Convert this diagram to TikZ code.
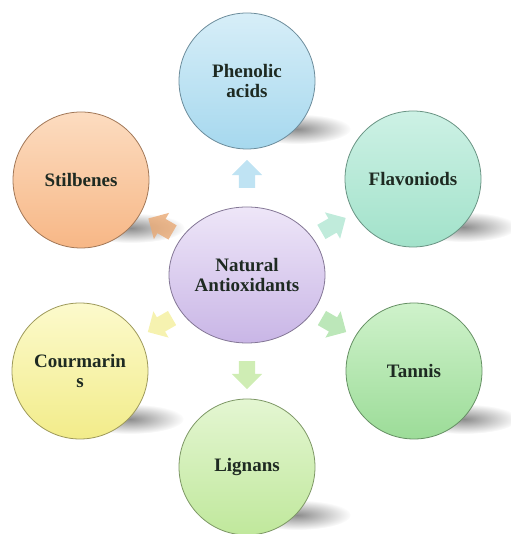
\documentclass[tikz,border=0pt]{standalone}
\usepackage{fontspec}
\setmainfont{Liberation Serif}
\usepackage{tikz}
\usetikzlibrary{shapes.geometric,shapes.arrows,fadings,calc,backgrounds}
\usepackage{xcolor}

\definecolor{phenTop}{HTML}{D7EEF8}
\definecolor{phenBot}{HTML}{A6D8EE}
\definecolor{stilTop}{HTML}{FCDCC0}
\definecolor{stilBot}{HTML}{F7B786}
\definecolor{flavTop}{HTML}{CDF1E5}
\definecolor{flavBot}{HTML}{A2E2CA}
\definecolor{tannTop}{HTML}{CFF2CB}
\definecolor{tannBot}{HTML}{9CDC98}
\definecolor{lignTop}{HTML}{E4F6D2}
\definecolor{lignBot}{HTML}{C0E89C}
\definecolor{courTop}{HTML}{FCFACC}
\definecolor{courBot}{HTML}{F2EC8A}
\definecolor{natTop}{HTML}{EEE6F8}
\definecolor{natBot}{HTML}{C9B6E6}
\definecolor{labelInk}{HTML}{1E2A22}

\tikzfading[name=softblob,inner color=transparent!0,outer color=transparent!100]

\begin{document}
\begin{tikzpicture}[x=1pt,y=1pt,
  bubble/.style={circle,minimum size=136pt,inner sep=0pt,align=center,line width=0.8pt,
    font=\bfseries\fontsize{19}{20}\selectfont,text=labelInk},
  blob/.style={fill=black!45,path fading=softblob},
  pointer/.style={single arrow,minimum height=28pt,minimum width=30pt,text width=0pt,
    text height=8pt,text depth=8pt,inner sep=0pt,single arrow head extend=7pt,opacity=0.8}]
\useasboundingbox (0,0) rectangle (510,534);
% hub
\node[bubble,ellipse,minimum width=156pt,minimum height=136pt,top color=natTop,bottom color=natBot,draw=natBot!65!black]
  (nat) at (247,259) {Natural\\Antioxidants};
% groups round the hub
\node[bubble,top color=phenTop,bottom color=phenBot,draw=phenBot!65!black] (phen) at (247,453) {Phenolic\\acids};
\node[bubble,top color=stilTop,bottom color=stilBot,draw=stilBot!65!black] (stil) at (81,354) {Stilbenes};
\node[bubble,top color=flavTop,bottom color=flavBot,draw=flavBot!65!black] (flav) at (413,355) {Flavoniods};
\node[bubble,top color=tannTop,bottom color=tannBot,draw=tannBot!65!black] (tann) at (414,163) {Tannis};
\node[bubble,top color=lignTop,bottom color=lignBot,draw=lignBot!65!black] (lign) at (247,67) {Lignans};
\node[bubble,top color=courTop,bottom color=courBot,draw=courBot!65!black] (cour) at (80,163) {Courmarin\\s};
% soft shadows
\begin{scope}[on background layer]
\fill[blob] ($(phen)+(50,-48)$) ellipse (54 and 15);
\fill[blob] ($(stil)+(50,-48)$) ellipse (54 and 15);
\fill[blob] ($(flav)+(50,-48)$) ellipse (54 and 15);
\fill[blob] ($(tann)+(50,-48)$) ellipse (54 and 15);
\fill[blob] ($(lign)+(50,-48)$) ellipse (54 and 15);
\fill[blob] ($(cour)+(50,-48)$) ellipse (54 and 15);
\end{scope}
% arrows out of the hub
\node[pointer,fill=phenBot!90,rotate=90] (toPhen) at ($(nat)!0.5!(phen)$) {};
\node[pointer,fill=stilBot!75!brown,rotate=150] (toStil) at ($(nat)!0.5!(stil)$) {};
\node[pointer,fill=flavBot!85,rotate=30] (toFlav) at ($(nat)!0.5!(flav)$) {};
\node[pointer,fill=tannBot!85,rotate=-30] (toTann) at ($(nat)!0.5!(tann)$) {};
\node[pointer,fill=lignBot!95,rotate=-90] (toLign) at ($(nat)!0.5!(lign)$) {};
\node[pointer,fill=courBot!85,rotate=210] (toCour) at ($(nat)!0.5!(cour)$) {};
\end{tikzpicture}
\end{document}
